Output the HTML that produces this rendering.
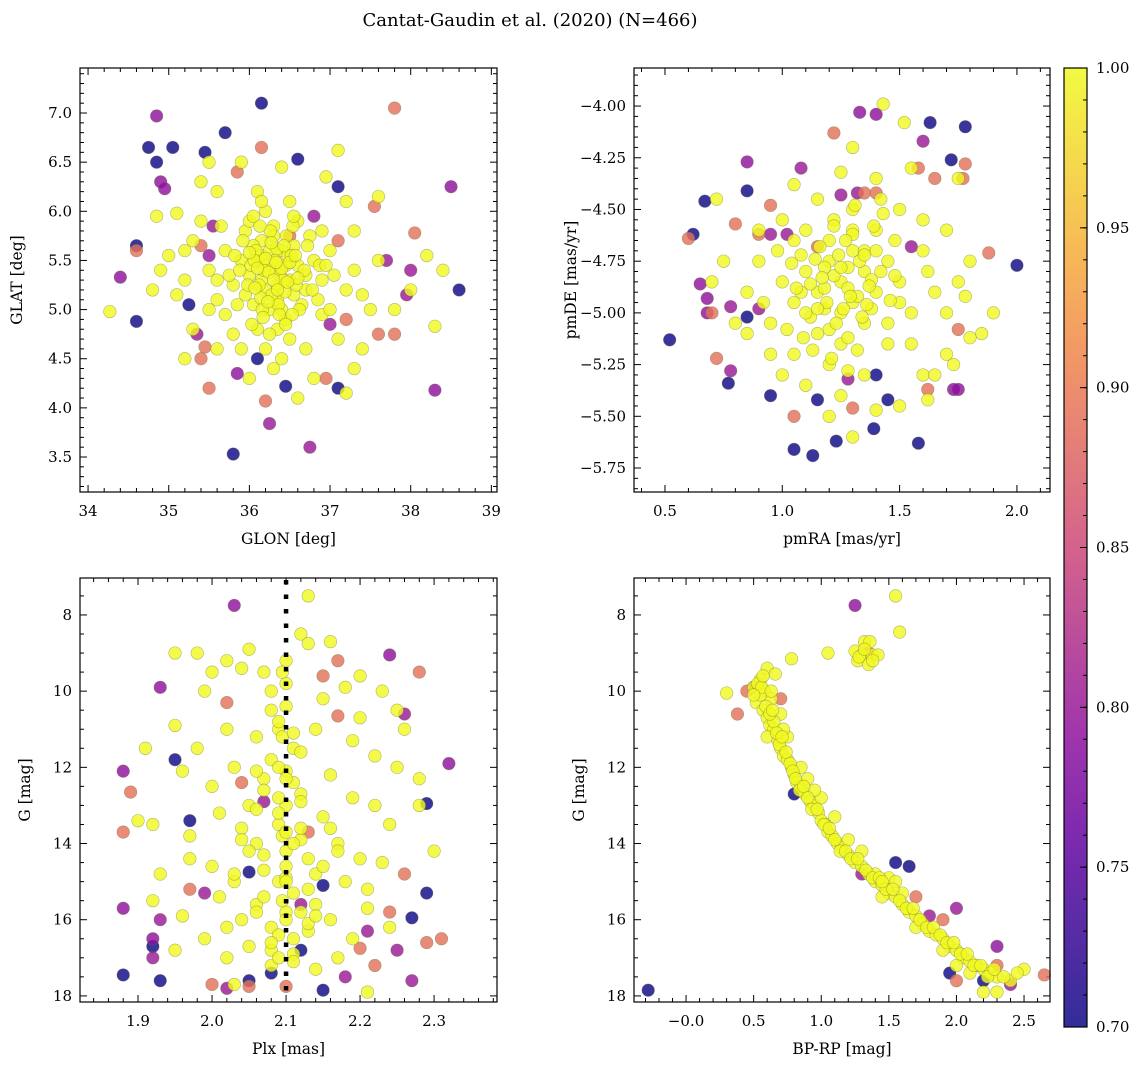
<!DOCTYPE html>
<html><head><meta charset="utf-8"><style>
html,body{margin:0;padding:0;background:#fff;}
svg{display:block;font-family:"DejaVu Serif","Liberation Serif",serif;}
</style></head><body>
<svg id="fig" width="1148" height="1068" viewBox="0 0 1148 1068" xmlns="http://www.w3.org/2000/svg">
<text x="530" y="26" font-size="18" text-anchor="middle">Cantat-Gaudin et al. (2020) (N=466)</text>
</svg>
<script>
// ---------- data ----------
const yellowProb = 1.0;
// Panel 1: GLON / GLAT
const p1YellowGlon = [36.3,36.1,36.5,36.2,36.4,36.0,36.6,36.35,36.15,36.55,35.9,36.7,36.25,36.45,36.05,35.95,36.8,36.3,36.6,35.8,36.9,35.7,36.1,36.5,35.6,37.0,36.2,35.5,37.2,36.7,35.9,36.3,37.3,35.4,34.8,34.85,35.0,35.1,35.2,35.3,35.2,35.6,36.0,36.4,36.8,37.2,37.4,37.5,37.3,37.6,38.0,38.2,38.4,38.3,34.27,37.1,37.2,36.4,35.9,35.4,35.5,35.6,35.1,36.95,37.6,37.3,36.6,35.8,36.15,36.35,36.45,36.25,36.05,35.85,36.65,36.75,36.9,35.75,35.65,36.5,36.1,35.3,37.0,37.1,36.2,35.5,34.9,37.4,36.85,36.3,35.95,36.55,36.35,36.0,36.7,36.15,36.4,37.8,35.2,36.9];
const p1YellowGlat = [5.4,5.5,5.3,5.2,5.6,5.35,5.45,5.1,5.7,5.65,5.5,5.2,5.0,4.9,5.05,5.8,5.5,5.85,5.9,5.25,5.3,5.6,4.8,4.7,5.1,5.6,6.0,5.4,5.2,4.6,4.6,4.4,5.8,5.9,5.2,5.95,5.55,5.15,5.3,4.8,4.5,4.6,4.3,4.5,4.3,4.15,4.6,5.0,5.4,5.5,5.2,5.55,5.4,4.83,4.98,6.62,6.1,6.45,6.5,6.3,6.5,6.2,5.98,6.35,6.15,4.4,4.1,4.75,5.55,5.25,5.45,5.6,5.65,5.05,5.05,5.75,4.95,5.35,5.85,6.1,6.2,5.7,5.0,4.7,4.6,5.0,5.4,5.15,5.1,5.75,5.15,5.15,4.8,5.9,5.35,5.3,5.0,5.0,5.6,5.8];
const p1DenseGlon = [36.22,36.38,36.12,36.48,36.28,36.02,36.58,36.18,36.42,36.32,36.08,36.52,36.68,35.98,36.26,36.36,36.46,36.16,35.88,36.72,36.62,36.06,36.34,36.24,36.44,36.14,36.54,35.92,36.78,36.3,36.2,36.4,36.1,36.5,36.0,36.6,36.33,36.27,36.37,36.17,36.47,36.07,36.57,35.82,36.87,36.23,36.43,36.13,36.53,36.03,35.7,36.95,35.6,37.05,36.35,36.25,36.45,36.15,36.55,36.05];
const p1DenseGlat = [5.45,5.35,5.25,5.55,5.15,5.45,5.25,5.4,5.3,5.5,5.6,5.55,5.4,5.25,5.8,5.05,5.75,5.0,5.4,5.65,5.0,5.5,5.62,5.38,5.18,5.12,5.85,5.7,5.2,5.3,5.52,5.42,5.42,5.48,5.58,5.32,5.48,5.68,4.95,4.92,5.28,5.22,5.55,5.55,5.45,5.08,5.65,5.85,4.95,4.85,4.95,5.45,5.3,5.35,5.2,4.75,4.85,6.1,5.95,5.95];
const p1OtherGlon = [36.15,34.75,35.05,34.85,35.7,35.45,36.6,37.1,34.6,34.6,38.6,36.1,36.45,37.1,35.8,35.25,34.85,34.9,34.95,34.4,35.55,35.5,38.5,38.0,37.95,38.3,36.25,36.75,35.85,37.7,37.0,36.8,35.35,37.8,36.15,35.85,37.55,38.05,34.6,35.4,37.1,37.6,37.8,36.95,36.2,35.5,35.4,35.45,36.5,37.2];
const p1OtherGlat = [7.1,6.65,6.65,6.5,6.8,6.6,6.53,6.25,5.65,4.88,5.2,4.5,4.22,4.2,3.53,5.05,6.97,6.3,6.23,5.33,5.85,5.55,6.25,5.4,5.15,4.18,3.84,3.6,4.35,5.5,4.85,5.95,4.75,7.05,6.65,6.4,6.05,5.78,5.6,5.65,5.7,4.75,4.75,4.3,4.07,4.2,4.5,4.62,5.75,4.9];
const p1OtherProb = [0.70,0.70,0.70,0.70,0.70,0.70,0.70,0.70,0.70,0.70,0.70,0.70,0.70,0.70,0.70,0.70,0.79,0.79,0.79,0.79,0.80,0.80,0.79,0.80,0.80,0.79,0.80,0.80,0.79,0.80,0.80,0.80,0.80,0.89,0.89,0.89,0.89,0.89,0.89,0.89,0.89,0.89,0.89,0.89,0.89,0.89,0.89,0.89,0.89,0.89];

// Panel 2: pmRA / pmDE
const p2YellowPmra = [1.25,1.2,1.3,1.15,1.35,1.1,1.4,1.25,1.2,1.3,1.05,1.45,1.15,1.35,1.0,1.5,1.25,1.1,1.4,0.95,1.55,1.2,1.3,0.9,1.6,1.05,1.45,1.35,1.0,1.5,0.85,1.65,1.25,1.15,1.4,1.3,1.43,1.52,1.05,1.25,0.75,0.7,0.85,1.7,1.75,1.8,1.85,1.9,1.7,1.6,1.5,1.4,1.1,1.0,0.95,0.9,1.05,1.6,1.7,1.75,1.55,1.65,1.78,0.8,1.3,1.2,1.3,1.18,1.28,1.38,1.08,1.48,1.12,1.32,1.22,1.42,1.02,1.55,0.92,1.62,1.35,1.18,1.45,0.98,1.28,1.5,1.8,1.73,0.72,1.62];
const p2YellowPmde = [-4.85,-4.75,-4.95,-4.9,-4.8,-4.8,-4.9,-5.0,-4.65,-4.7,-4.95,-4.75,-5.1,-5.05,-4.85,-4.85,-5.15,-4.6,-4.6,-5.05,-5.0,-5.25,-4.5,-4.75,-4.7,-5.2,-5.15,-5.3,-4.55,-4.5,-4.9,-4.9,-5.4,-4.45,-4.35,-4.2,-3.99,-4.08,-4.38,-4.32,-4.75,-4.85,-5.1,-5.0,-4.85,-4.75,-5.1,-5.0,-5.2,-5.3,-5.45,-5.47,-5.35,-5.3,-5.2,-4.6,-4.65,-4.55,-4.6,-4.35,-4.3,-5.3,-4.92,-5.05,-5.6,-5.5,-4.6,-4.98,-4.78,-4.98,-4.72,-4.65,-5.02,-5.18,-4.55,-4.45,-5.08,-5.15,-4.95,-4.8,-4.7,-4.88,-5.05,-4.7,-5.28,-4.95,-5.12,-5.25,-4.45,-5.42];
const p2DensePmra = [1.22,1.28,1.18,1.32,1.12,1.38,1.24,1.26,1.16,1.34,1.08,1.42,1.2,1.3,1.14,1.36,1.1,1.4,1.04,1.46,1.22,1.28,1.19,1.33,1.27,1.23,1.17,1.37,1.13,1.43,1.06,1.48,1.21,1.31,1.25,1.29,1.15,1.35,1.09,1.39];
const p2DensePmde = [-4.82,-4.88,-4.78,-4.92,-4.86,-4.84,-4.72,-4.98,-4.68,-5.02,-4.9,-4.8,-5.08,-4.62,-4.74,-4.96,-5.0,-4.7,-4.76,-4.94,-4.58,-5.12,-4.95,-4.75,-4.65,-5.05,-4.83,-4.87,-5.18,-4.52,-4.88,-4.82,-5.22,-4.48,-4.78,-4.92,-4.98,-4.72,-5.12,-4.58];
const p2OtherPmra = [0.52,0.62,0.67,0.85,1.05,1.13,1.23,1.39,1.58,1.63,1.72,1.78,2.0,0.95,0.77,1.45,1.15,1.4,0.85,0.85,0.65,0.68,0.68,0.78,1.08,1.33,1.4,1.6,1.25,1.32,1.73,1.75,0.9,0.78,1.28,1.55,0.95,1.02,1.22,1.58,1.65,1.78,1.77,1.35,1.4,1.88,0.9,0.8,0.6,0.7,1.05,1.3,1.62,1.75,0.72,0.95,1.15];
const p2OtherPmde = [-5.13,-4.62,-4.46,-4.41,-5.66,-5.69,-5.62,-5.56,-5.63,-4.08,-4.26,-4.1,-4.77,-5.4,-5.34,-5.42,-5.42,-5.3,-5.02,-4.27,-4.86,-4.93,-5.0,-4.97,-4.3,-4.03,-4.04,-4.17,-4.43,-4.42,-5.37,-5.37,-4.98,-5.28,-5.32,-4.68,-4.62,-4.62,-4.13,-4.3,-4.35,-4.28,-4.35,-4.42,-4.42,-4.71,-4.62,-4.57,-4.64,-5.0,-5.5,-5.46,-5.37,-5.08,-5.22,-4.48,-4.68];
const p2OtherProb = [0.70,0.70,0.70,0.70,0.70,0.70,0.70,0.70,0.70,0.70,0.70,0.70,0.70,0.70,0.70,0.70,0.70,0.70,0.70,0.79,0.79,0.79,0.79,0.80,0.80,0.79,0.79,0.80,0.80,0.80,0.79,0.79,0.80,0.80,0.80,0.80,0.80,0.80,0.89,0.89,0.89,0.89,0.89,0.89,0.89,0.89,0.89,0.89,0.89,0.89,0.89,0.89,0.89,0.89,0.89,0.89,0.89];

// Panel 3: Plx / G
const p3YellowPlx = [2.13,2.12,2.13,1.98,2.05,2.1,2.0,1.99,2.04,2.08,2.1,2.15,2.18,2.2,2.23,2.25,1.95,1.91,2.02,2.06,2.09,2.11,2.14,2.19,2.22,2.26,2.25,2.28,1.96,2.0,2.03,2.07,2.1,2.12,2.16,2.19,2.22,2.24,1.92,1.97,2.01,2.04,2.06,2.09,2.1,2.12,2.15,2.17,2.2,2.23,1.93,1.97,2.0,2.03,2.07,2.09,2.11,2.14,2.18,2.21,1.92,1.96,2.01,2.04,2.06,2.08,2.1,2.13,2.16,2.19,2.21,2.24,1.95,1.99,2.02,2.05,2.08,2.11,2.14,2.17,2.21,2.03,2.11,2.1,2.09,2.1,2.1,2.095,2.095,2.095,2.095,2.02,1.95,1.9,2.07,2.2,2.28,2.3,2.16,1.98,2.05];
const p3YellowG = [7.5,8.5,8.75,9.0,8.9,9.2,9.5,10.0,9.4,10.0,9.8,10.2,9.9,9.6,10.0,10.5,10.9,11.5,11.0,11.2,11.0,11.5,11.0,11.3,11.7,11.0,12.0,12.3,12.1,12.5,12.0,12.3,12.1,12.7,12.2,12.8,13.0,13.5,13.5,13.8,13.2,13.6,14.0,13.5,14.2,13.9,13.3,14.0,14.4,14.5,14.8,14.4,14.6,15.0,14.7,15.0,15.3,14.8,15.0,15.2,15.5,15.9,15.4,16.0,15.6,16.2,15.8,16.3,16.0,16.5,15.7,16.2,16.8,16.5,17.0,16.7,17.2,16.9,17.3,17.0,17.9,17.7,16.5,13.0,12.8,14.6,16.0,11.2,13.8,15.5,9.5,9.2,9.0,13.4,9.5,10.7,13.0,14.2,8.7,11.5,13.0];
const p3DensePlx = [2.08,2.11,2.09,2.12,2.07,2.1,2.13,2.06,2.09,2.11,2.08,2.12,2.1,2.07,2.13,2.05,2.09,2.11,2.14,2.06,2.08,2.12,2.1,2.04,2.15,2.09,2.11,2.07,2.13,2.1,2.03,2.16,2.08,2.12,2.06,2.14,2.1,2.02,2.17,2.09];
const p3DenseG = [11.8,12.4,13.2,13.6,14.3,14.9,15.2,15.8,16.4,11.1,10.5,12.9,13.7,15.4,16.1,14.2,12.0,14.0,15.6,13.1,16.8,11.6,15.0,13.9,14.6,10.8,17.1,12.6,14.4,12.3,14.8,13.6,16.6,15.8,12.1,15.9,10.4,16.2,14.2,17.0];
const p3OtherPlx = [1.88,1.93,1.95,1.97,2.05,2.08,2.15,2.15,2.27,2.29,2.29,2.05,2.12,1.92,1.88,1.88,1.92,1.93,1.93,1.92,2.03,2.02,2.07,2.24,2.26,2.32,2.25,2.27,2.18,2.12,1.99,2.21,1.88,1.89,2.02,2.04,2.15,2.17,2.17,2.28,2.29,2.31,2.26,2.24,2.05,2.1,2.2,2.0,2.13,1.97,2.22];
const p3OtherG = [17.45,17.6,11.8,13.4,14.75,17.4,15.1,17.85,15.95,12.95,15.3,17.6,16.8,16.7,12.1,15.7,16.5,9.9,16.0,17.0,7.75,17.8,12.9,9.05,10.6,11.9,16.8,17.6,17.5,15.6,15.3,16.3,13.7,12.65,10.3,12.4,9.6,10.65,9.2,9.5,16.6,16.5,14.8,15.8,17.75,17.75,16.75,17.7,13.7,15.2,17.2];
const p3OtherProb = [0.70,0.70,0.70,0.70,0.70,0.70,0.70,0.70,0.70,0.70,0.70,0.70,0.70,0.70,0.79,0.79,0.79,0.79,0.80,0.80,0.79,0.80,0.80,0.79,0.80,0.79,0.80,0.80,0.80,0.80,0.80,0.80,0.89,0.89,0.89,0.89,0.89,0.89,0.89,0.89,0.89,0.89,0.89,0.89,0.89,0.89,0.89,0.89,0.89,0.89,0.89];
const plxMarker = 2.1;

// Panel 4: BP-RP / G
const p4YellowBprp = [1.55,1.58,1.25,1.32,1.36,1.3,1.38,1.42,1.27,1.05,1.35,0.78,0.6,0.66,0.55,0.5,0.58,0.63,0.3,0.52,0.57,0.6,0.62,0.65,0.6,0.68,0.7,0.72,0.75,0.78,0.8,0.82,0.85,0.88,0.92,0.95,0.98,1.0,1.03,1.05,1.08,1.12,1.15,1.2,1.25,1.3,1.35,1.4,1.45,1.5,1.55,1.6,1.65,1.7,1.75,1.8,1.85,1.9,1.95,2.0,2.05,2.1,2.15,2.2,2.25,2.3,2.4,2.5,2.2,2.3,1.5,1.55,1.45,0.55,0.7,0.75,0.9,1.1,0.65,0.72,1.0,1.2,1.4,1.7,1.9,2.1,0.85,0.95,1.3,1.6,2.0];
const p4YellowG = [7.5,8.45,8.95,8.7,8.7,9.05,9.05,9.05,9.2,9.0,9.3,9.15,9.4,9.55,9.7,9.9,10.0,10.2,10.05,10.3,10.5,10.7,10.9,11.0,11.2,11.3,11.5,11.7,11.8,12.0,12.2,12.4,12.5,12.7,12.9,13.0,13.2,13.4,13.5,13.7,13.8,14.0,14.1,14.3,14.5,14.6,14.8,15.0,15.1,15.3,15.4,15.6,15.8,15.9,16.1,16.3,16.4,16.5,16.7,16.8,17.0,17.1,17.2,17.3,17.4,17.5,17.6,17.3,17.9,17.9,14.9,15.0,15.4,10.1,10.6,11.2,12.3,13.3,10.8,11.0,12.8,13.9,14.8,16.2,16.8,17.4,12.0,12.6,14.2,15.3,17.2];
const p4DenseBprp = [0.53,0.56,0.59,0.62,0.64,0.67,0.69,0.71,0.74,0.77,0.79,0.81,0.84,0.87,0.9,0.93,0.97,1.02,1.06,1.1,1.14,1.18,1.22,1.27,1.33,1.38,1.43,1.48,1.53,1.58,1.63,1.68,1.73,1.78,1.83,1.88,1.93,1.98,2.03,2.08,2.13,2.18,2.23,2.28,2.35,2.45,0.5,0.57,0.63,1.28,1.45,1.38,1.32];
const p4DenseG = [9.8,9.9,10.4,10.6,10.5,11.1,11.4,11.2,11.6,11.9,12.1,12.3,12.6,12.5,12.8,13.1,13.1,13.5,13.6,13.9,14.2,14.2,14.4,14.4,14.7,14.9,14.9,15.2,15.2,15.5,15.7,15.7,16.0,16.2,16.2,16.4,16.6,16.6,16.9,16.9,17.2,17.2,17.5,17.3,17.5,17.4,10.1,9.6,10.0,9.1,15.0,9.2,8.9];
const p4OtherBprp = [-0.28,1.95,1.55,1.65,2.2,0.8,1.25,0.5,2.3,2.0,1.8,2.4,1.3,0.38,0.45,2.65,1.7,1.9,2.3,1.35,2.0,0.7];
const p4OtherG = [17.85,17.4,14.5,14.6,17.6,12.7,7.75,9.9,16.7,15.7,15.9,17.7,14.8,10.6,10.0,17.45,15.4,16.0,17.2,9.0,17.6,10.2];
const p4OtherProb = [0.70,0.70,0.70,0.70,0.70,0.70,0.79,0.79,0.79,0.80,0.80,0.80,0.80,0.89,0.89,0.89,0.89,0.89,0.89,0.89,0.89,0.89];

// colorbar
const cbTicks = [0.70,0.75,0.80,0.85,0.90,0.95,1.00];
const cbMin = 0.70, cbMax = 1.00;

// ---------- drawing ----------
const NS = "http://www.w3.org/2000/svg";
const svg = document.getElementById('fig');
function mk(tag, attrs, parent){
  const e = document.createElementNS(NS, tag);
  for (const k in attrs) e.setAttribute(k, attrs[k]);
  (parent||svg).appendChild(e);
  return e;
}
const stops = [[0,[13,8,135]],[0.25,[126,3,168]],[0.5,[204,71,120]],[0.75,[248,149,64]],[1,[240,249,33]]];
function plasma(t){
  t = Math.max(0, Math.min(1, t));
  for (let i=1;i<stops.length;i++){
    if (t <= stops[i][0]){
      const a=stops[i-1], b=stops[i], f=(t-a[0])/(b[0]-a[0]);
      const c=a[1].map((v,j)=>Math.round(v+(b[1][j]-v)*f));
      return `rgb(${c[0]},${c[1]},${c[2]})`;
    }
  }
  return 'rgb(240,249,33)';
}
function colorOf(p){ return plasma((p-cbMin)/(cbMax-cbMin)); }
function fmt(v, dec){ return v.toFixed(dec).replace('-', '\u2212'); }

function axes(cfg){
  const g = mk('g', {});
  
  
  const {x0,x1,y0,y1,xmin,xmax,ymin,ymax,invertY} = cfg;
  const sx = v => x0 + (v-xmin)/(xmax-xmin)*(x1-x0);
  const sy = invertY ? (v => y0 + (v-ymin)/(ymax-ymin)*(y1-y0)) : (v => y1 - (v-ymin)/(ymax-ymin)*(y1-y0));
  const eps=1e-9;
  const tk = mk('g', {stroke:'#000','stroke-width':1}, g);
  for (let v=Math.ceil(xmin/cfg.xminor-eps)*cfg.xminor; v<=xmax+eps; v+=cfg.xminor){
    const major = Math.abs(v/cfg.xmajor - Math.round(v/cfg.xmajor))<1e-6;
    const L = major?7:4, X=sx(v);
    mk('line',{x1:X,y1:y1,x2:X,y2:y1-L},tk);
    mk('line',{x1:X,y1:y0,x2:X,y2:y0+L},tk);
    if (major){
      const t = mk('text',{x:X,y:y1+24,'font-size':15,'text-anchor':'middle'},g);
      t.textContent = fmt(v, cfg.xdec);
      
      
    }
  }
  for (let v=Math.ceil(ymin/cfg.yminor-eps)*cfg.yminor; v<=ymax+eps; v+=cfg.yminor){
    const major = Math.abs(v/cfg.ymajor - Math.round(v/cfg.ymajor))<1e-6;
    const L = major?7:4, Y=sy(v);
    mk('line',{x1:x0,y1:Y,x2:x0+L,y2:Y},tk);
    mk('line',{x1:x1,y1:Y,x2:x1-L,y2:Y},tk);
    if (major){
      const t = mk('text',{x:x0-8,y:Y+5,'font-size':15,'text-anchor':'end'},g);
      t.textContent = fmt(v, cfg.ydec);
      
      
    }
  }
  const xl = mk('text',{x:(x0+x1)/2,y:y1+52,'font-size':15.5,'text-anchor':'middle'},g);
  xl.textContent = cfg.xlabel;
  
  
  const yx = cfg.ylabelX, yy=(y0+y1)/2;
  const yl = mk('text',{x:yx,y:yy,'font-size':15.5,'text-anchor':'middle',transform:`rotate(-90 ${yx} ${yy})`},g);
  yl.textContent = cfg.ylabel;
  
  
  const pts = mk('g',{},g);
  
  
  function plot(xs, ys, ps){
    const idx = xs.map((_,i)=>i).sort((a,b)=>ps[a]-ps[b]);
    idx.forEach(i=>{
      const c = mk('circle',{cx:sx(xs[i]),cy:sy(ys[i]),r:6.3,fill:colorOf(ps[i]),'fill-opacity':0.82,stroke:'#707040','stroke-opacity':0.5,'stroke-width':0.6},pts);
      
      
    });
  }
  plot(cfg.ox, cfg.oy, cfg.op);
  plot(cfg.yx, cfg.yy, cfg.yx.map(()=>yellowProb));
  mk('rect',{x:x0,y:y0,width:x1-x0,height:y1-y0,fill:'none',stroke:'#000','stroke-width':1.2},g);
  return {sx, sy, g};
}

axes({name:'panel-glon-glat',x0:80,x1:497,y0:68,y1:492,xmin:33.90,xmax:39.07,ymin:3.144,ymax:7.458,
  xmajor:1,xminor:0.2,ymajor:0.5,yminor:0.1,xdec:0,ydec:1,xlabel:'GLON [deg]',ylabel:'GLAT [deg]',ylabelX:22,
  yx:p1YellowGlon.concat(p1DenseGlon),yy:p1YellowGlat.concat(p1DenseGlat),ox:p1OtherGlon,oy:p1OtherGlat,op:p1OtherProb});
axes({name:'panel-pmra-pmde',x0:634,x1:1050,y0:68,y1:492,xmin:0.368,xmax:2.141,ymin:-5.866,ymax:-3.816,
  xmajor:0.5,xminor:0.1,ymajor:0.25,yminor:0.05,xdec:1,ydec:2,xlabel:'pmRA [mas/yr]',ylabel:'pmDE [mas/yr]',ylabelX:576,
  yx:p2YellowPmra.concat(p2DensePmra),yy:p2YellowPmde.concat(p2DensePmde),ox:p2OtherPmra,oy:p2OtherPmde,op:p2OtherProb});
const a3 = axes({name:'panel-plx-g',x0:80,x1:497,y0:578,y1:1002,xmin:1.8216,xmax:2.385,ymin:7.03,ymax:18.16,invertY:true,
  xmajor:0.1,xminor:0.02,ymajor:2,yminor:0.5,xdec:1,ydec:0,xlabel:'Plx [mas]',ylabel:'G [mag]',ylabelX:30,
  yx:p3YellowPlx.concat(p3DensePlx),yy:p3YellowG.concat(p3DenseG),ox:p3OtherPlx,oy:p3OtherG,op:p3OtherProb});
const vl = mk('line',{x1:a3.sx(plxMarker),x2:a3.sx(plxMarker),y1:580,y2:1000,stroke:'#000','stroke-width':4.5,'stroke-dasharray':'4.5,10'});


axes({name:'panel-bprp-g',x0:634,x1:1050,y0:578,y1:1002,xmin:-0.385,xmax:2.692,ymin:7.03,ymax:18.16,invertY:true,
  xmajor:0.5,xminor:0.1,ymajor:2,yminor:0.5,xdec:1,ydec:0,xlabel:'BP-RP [mag]',ylabel:'G [mag]',ylabelX:584,
  yx:p4YellowBprp.concat(p4DenseBprp),yy:p4YellowG.concat(p4DenseG),ox:p4OtherBprp,oy:p4OtherG,op:p4OtherProb});

// colorbar
const cb = mk('g',{});


const defs = mk('defs',{},cb);
const grad = mk('linearGradient',{id:'cbg',x1:0,y1:1,x2:0,y2:0},defs);
for (let i=0;i<=10;i++){
  mk('stop',{offset:i/10,'stop-color':plasma(i/10),'stop-opacity':0.85},grad);
}
const cbx0=1064,cbx1=1087,cby0=68,cby1=1027;
const cy = v => cby1 - (v-cbMin)/(cbMax-cbMin)*(cby1-cby0);
mk('rect',{x:cbx0,y:cby0,width:cbx1-cbx0,height:cby1-cby0,fill:'url(#cbg)'},cb);
for (let v=cbMin; v<=cbMax+1e-9; v+=0.01){
  mk('line',{x1:cbx1,x2:cbx1-4,y1:cy(v),y2:cy(v),stroke:'#000','stroke-width':1},cb);
}
cbTicks.forEach(v=>{
  mk('line',{x1:cbx1,x2:cbx1-7,y1:cy(v),y2:cy(v),stroke:'#000','stroke-width':1},cb);
  const t = mk('text',{x:cbx1+9,y:cy(v)+5,'font-size':15},cb);
  t.textContent = v.toFixed(2);
  
  
});
mk('rect',{x:cbx0,y:cby0,width:cbx1-cbx0,height:cby1-cby0,fill:'none',stroke:'#000','stroke-width':1.2},cb);
</script>
</body></html>
